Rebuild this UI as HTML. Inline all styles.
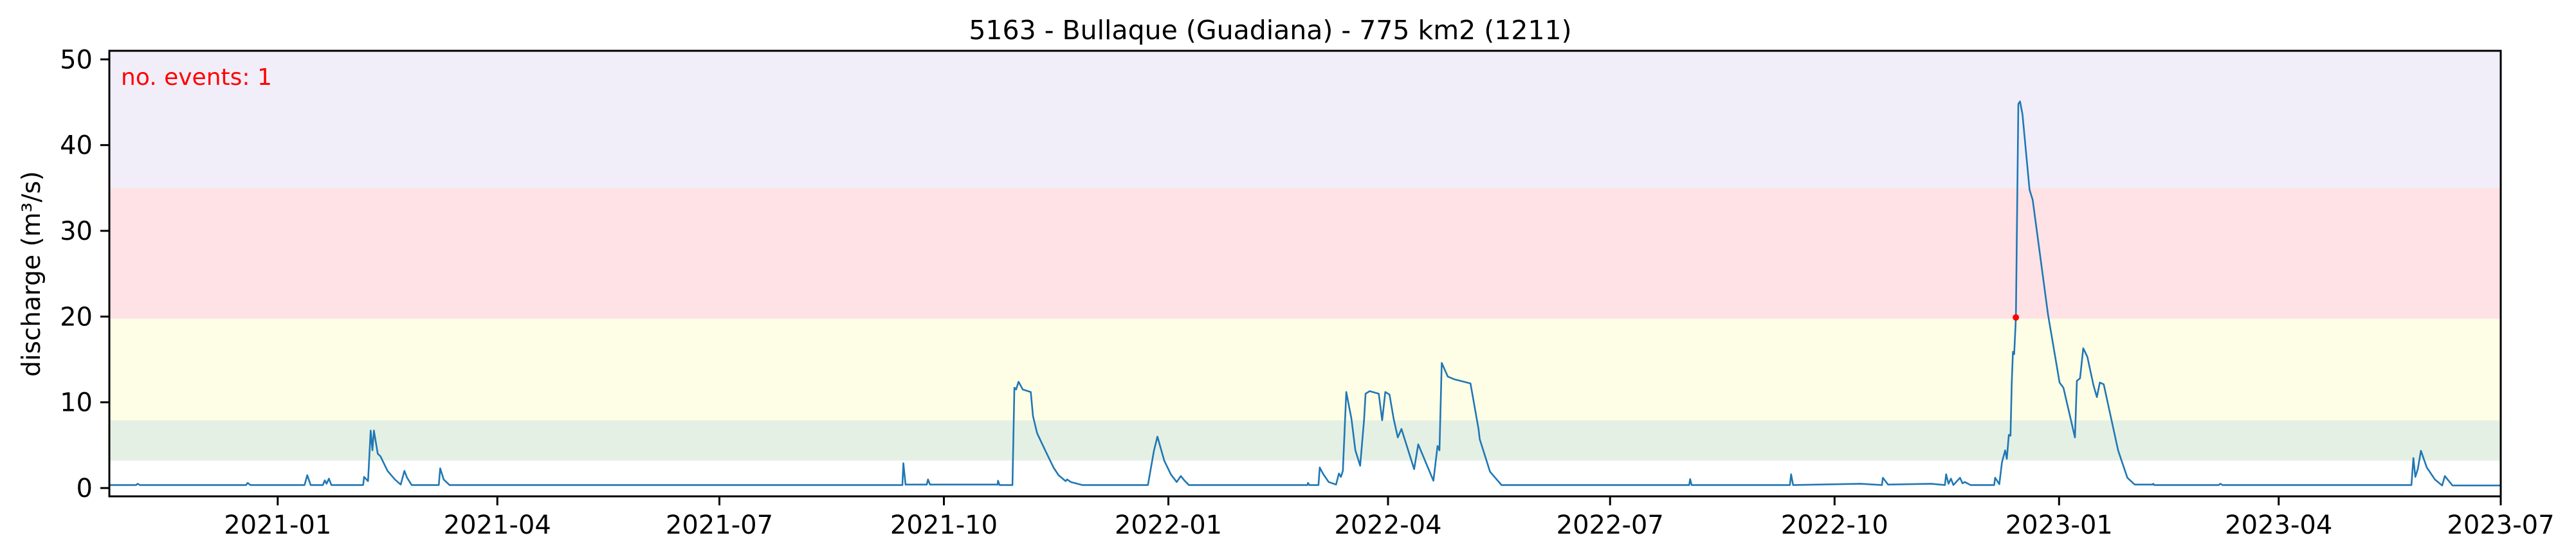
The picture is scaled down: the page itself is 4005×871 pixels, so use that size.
<!DOCTYPE html>
<html><head><meta charset="utf-8"><style>
html,body{margin:0;padding:0;background:#fff;}
svg{display:block;font-family:"DejaVu Sans","Liberation Sans",sans-serif;}
</style></head><body>
<svg id="chart" width="4005" height="871" viewBox="0 0 4005 871" xmlns="http://www.w3.org/2000/svg">
<text x="1975" y="61" font-size="41" text-anchor="middle" fill="#000">5163 - Bullaque (Guadiana) - 775 km2 (1211)</text>
<g id="bands"></g>
<g id="series"></g>
<g id="axes"></g>
<text x="188" y="132" font-size="36" fill="#ff0000">no. events: 1</text>
<text transform="translate(62,426) rotate(-90)" font-size="39" text-anchor="middle" fill="#000">discharge (m³/s)</text>
</svg>
<script>
const startDate = '2020-10-24';
const dayOffsets = [0,11,11.6,12.5,56,56.7,57.8,80,81.1,82.5,87.5,88.3,89,90,91,104,104.4,106,107.1,107.8,108.4,110,111.1,114,117,119.4,120.9,122,123.9,135,135.6,137,139.4,325,325.4,326.3,335,335.5,336.3,364,364.2,364.8,370.1,370.9,371.6,372.6,374.3,377.6,378.5,380.2,383.5,386.9,389,391.9,392.5,394,398.7,425.6,428.1,429.5,432.3,435,437.4,439.1,440.5,442.4,491,491.2,491.8,495.5,496,497.5,499.7,502.7,503.9,504.7,505.5,506.9,509,510.6,512.6,514.2,514.8,516.5,520.2,521.6,522.9,524.6,526.3,528,529.5,534.7,536.4,542.6,544.3,545.1,546,548.5,551,557.8,561.1,561.6,565.8,570.5,647.4,647.8,648.4,688.7,689.2,690,717.7,726.4,726.8,728.9,746.6,752.2,752.7,753.7,754.7,755.7,758.4,759.4,760.4,761.7,762.7,772.4,772.8,774.5,775.6,776.9,777.6,778.4,779.1,779.6,780.1,780.6,781.3,782.3,783,784,786.9,788.2,794.5,799.2,800.8,805.5,806.3,807.6,808.9,810.6,813.1,814.5,815.7,817.3,823.2,827,830,837.3,837.6,838,864.5,865,866,943.4,944.2,945,946,947.3,949.7,953,956,957.1,960.2,980];
const discharge = [.35,.35,.5,.35,.35,.6,.35,.35,1.5,.35,.35,.9,.5,1.1,.35,.35,1.3,.8,6.7,4.4,6.7,4.0,3.7,2.0,1.0,.4,2.0,1.2,.35,.35,2.3,1.0,.35,.35,2.9,.4,.4,1.0,.4,.4,.85,.35,.35,11.7,11.5,12.4,11.5,11.2,8.4,6.4,4.4,2.4,1.5,.8,1.0,.7,.35,.35,4.4,6.0,3.2,1.6,.7,1.4,.9,.35,.35,.6,.35,.35,2.4,1.6,.7,.4,1.7,1.3,2.0,11.2,8.1,4.4,2.6,8.0,11.0,11.3,11.0,7.9,11.2,10.9,8.1,5.9,6.9,2.2,5.1,.85,4.9,4.4,14.6,13.0,12.7,12.2,6.9,5.7,1.9,.35,.35,1.05,.35,.35,1.6,.35,.5,.35,1.2,.4,.5,.35,1.6,.5,1.1,.35,1.2,.55,.7,.5,.35,.35,1.2,.45,3.0,4.4,3.4,6.2,6.1,12.2,15.9,15.6,19.9,44.8,45.1,43.6,34.8,33.6,20.2,12.3,11.7,5.9,12.5,12.8,16.3,15.3,12.0,10.6,12.3,12.1,4.4,1.2,.4,.4,.5,.35,.35,.5,.35,.35,3.5,1.3,2.2,4.35,2.4,1.0,.3,1.4,.3,.3];
const eventDays = [781.3];
const eventValues = [19.9];
const bandLows = [35, 19.75, 7.9, 3.2];
const bandHighs = [51, 35, 19.75, 7.9];
const bandNames = ['band-extreme','band-high','band-moderate','band-low'];
const bandColors = ['#f1eef9','#fee2e5','#fefee6','#e4f0e4'];
const yTicks = [0,10,20,30,40,50];
const xTickLabels = ['2021-01','2021-04','2021-07','2021-10','2022-01','2022-04','2022-07','2022-10','2023-01','2023-04','2023-07'];

const NS='http://www.w3.org/2000/svg';
const L=170,R=3888,T=79,B=772;
const yMin=-0.97,yMax=51.0;
const t0=Date.parse(startDate+'T00:00:00Z'), t1=Date.parse('2023-07-01T00:00:00Z');
const dayMs=86400000;
const xDay=d=>L+(d*dayMs)/(t1-t0)*(R-L);
const xDate=s=>xDay((Date.parse(s+'-01T00:00:00Z')-t0)/dayMs);
const y=v=>B-(v-yMin)/(yMax-yMin)*(B-T);
function mk(tag,attrs,parent){const e=document.createElementNS(NS,tag);for(const k in attrs)e.setAttribute(k,attrs[k]);parent.appendChild(e);return e;}

const bands=document.getElementById('bands');
bandLows.forEach((lo,i)=>{
  const r=mk('rect',{x:L,y:y(bandHighs[i]),width:R-L,height:y(lo)-y(bandHighs[i]),fill:bandColors[i]},bands);
  
  
});

const series=document.getElementById('series');
const pts=dayOffsets.map((d,i)=>xDay(d).toFixed(1)+','+y(discharge[i]).toFixed(1)).join(' ');
const line=mk('polyline',{points:pts,fill:'none',stroke:'#1f77b4','stroke-width':2.6,'stroke-linejoin':'round'},series);


eventDays.forEach((d,i)=>{
  const c=mk('circle',{cx:xDay(d),cy:y(eventValues[i]),r:5,fill:'#ff0000'},series);
  
  
});

const axes=document.getElementById('axes');
const frame=mk('rect',{x:L,y:T,width:R-L,height:B-T,fill:'none',stroke:'#000','stroke-width':3},axes);


yTicks.forEach(v=>{
  const ty=y(v);
  const tk=mk('line',{x1:L-14,x2:L,y1:ty,y2:ty,stroke:'#000','stroke-width':3},axes);
  
  
  const lb=mk('text',{x:L-26,y:ty+14,'font-size':40,'text-anchor':'end',fill:'#000'},axes);
  lb.textContent=v;
  
  
});
xTickLabels.forEach(s=>{
  const tx=xDate(s);
  const tk=mk('line',{x1:tx,x2:tx,y1:B,y2:B+14,stroke:'#000','stroke-width':3},axes);
  
  
  const lb=mk('text',{x:tx,y:830,'font-size':40,'text-anchor':'middle',fill:'#000'},axes);
  lb.textContent=s;
  
  
});
</script>
</body></html>
